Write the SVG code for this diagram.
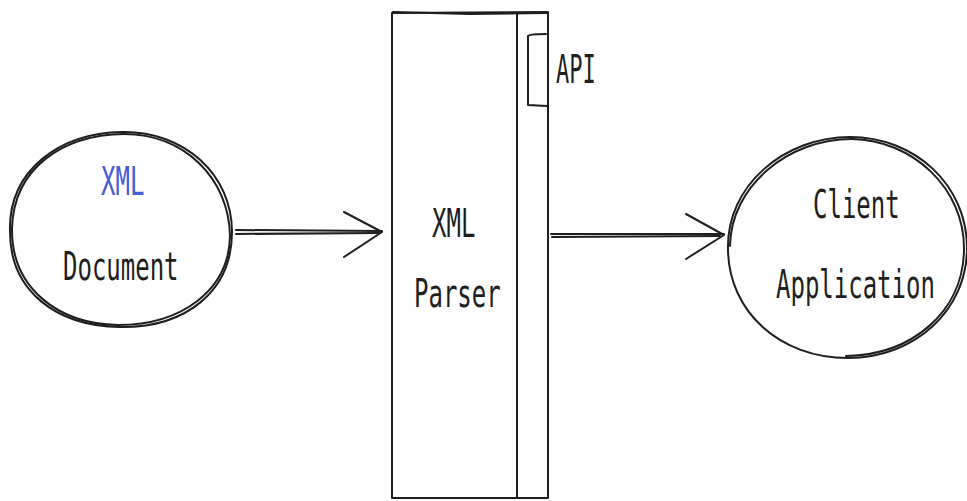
<svg xmlns="http://www.w3.org/2000/svg" width="967" height="501" viewBox="0 0 967 501">
<style>
.s{fill:none;stroke:#1e1e1e;stroke-width:2;stroke-linecap:round;stroke-linejoin:round}
.t{font-family:"DejaVu Sans Mono","Liberation Mono",monospace;font-size:24px;fill:#1e1e1e}
.b{fill:#4a5bd6}
</style>
<rect width="967" height="501" fill="#ffffff"/>
<g id="xml-document">
<path class="s" d="M10,232 C8,170 60,133 122,132 C185,131 232,175 232,232 C232,292 185,328 120,327 C55,326 10,290 10,232 Z"/>
<path class="s" d="M12,228 C14,168 62,135 124,134 C184,134 229,178 230,236 C229,290 182,325 118,325 C58,324 11,288 12,228" stroke-width="1.2"/>
<text class="t b" transform="translate(101,195) scale(1,1.6)">XML</text>
<text class="t" transform="translate(63,280) scale(1,1.6)">Document</text>
</g>
<g id="xml-parser">
<path class="s" d="M392,13 L548,12 L548,498 L392,498 Z"/>
<path class="s" d="M393,12 L470,14 L547,13" stroke-width="2.5"/>
<path class="s" d="M517,14 L517,497"/>
<path class="s" d="M528,36 C528,35 533,34 546,34 M528,36 L528,105 L547,106"/>
<text class="t" transform="translate(432,237) scale(1,1.6)">XML</text>
<text class="t" transform="translate(414,307) scale(1,1.6)">Parser</text>
<text class="t" transform="translate(556,83) scale(0.92,1.6)">API</text>
</g>
<g id="client-application">
<path class="s" d="M728,250 C726,185 785,137 850,137 C915,137 967,185 967,248 C967,310 915,358 848,358 C780,358 729,312 728,250 Z"/>
<path class="s" d="M730,246 C731,186 788,139 852,139 C912,140 965,188 964,250 C963,312 912,355 846,356" stroke-width="1.2"/>
<text class="t" transform="translate(813,218) scale(1,1.6)">Client</text>
<text class="t" transform="translate(776,298) scale(1,1.6)">Application</text>
</g>
<g id="connectors">
<path class="s" d="M236,230 L382,231 M236,234 L380,233"/>
<path class="s" d="M344,212 L382,232 L344,257" stroke-width="2.5"/>
<path class="s" d="M551,234 L724,234 M552,237 L720,236"/>
<path class="s" d="M686,214 L724,235 L686,259" stroke-width="2.5"/>
</g>
</svg>
